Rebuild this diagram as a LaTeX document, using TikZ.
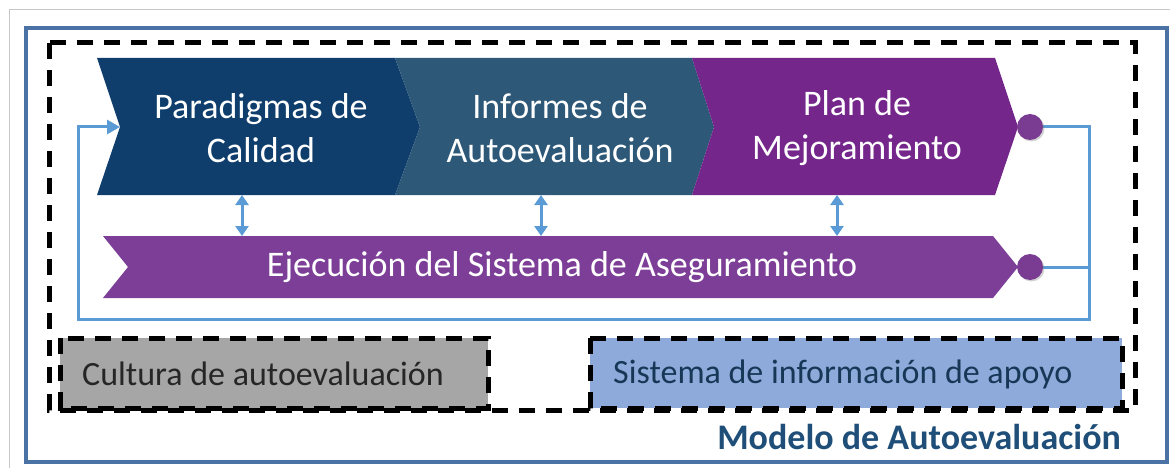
\documentclass[tikz,border=0pt]{standalone}
\usepackage{fontspec}
\setmainfont{Carlito}
\usetikzlibrary{arrows.meta,shadows}
\definecolor{frameblue}{HTML}{4A72A4}
\definecolor{navy}{HTML}{0F3E6D}
\definecolor{steel}{HTML}{2D5878}
\definecolor{purpleA}{HTML}{74268B}
\definecolor{purpleB}{HTML}{7C3E96}
\definecolor{dotpurple}{HTML}{7A3C92}
\definecolor{lineblue}{HTML}{5B9BD5}
\definecolor{culturagray}{HTML}{A6A6A6}
\definecolor{apoyoblue}{HTML}{8EAADB}
\definecolor{titleblue}{HTML}{1F4E79}
\tikzset{
  chevtext/.style={text=white, align=center, font=\fontsize{36}{44}\selectfont, inner sep=0pt},
  boxtext/.style={font=\fontsize{34}{38}\selectfont, inner sep=0pt, anchor=west},
  bigdash/.style={draw=black, line width=5pt, dash pattern=on 16pt off 11pt},
  feedback/.style={draw=lineblue, line width=3pt, -{Triangle[length=13pt,width=14pt]}},
  dblarrow/.style={draw=lineblue, line width=3pt, {Triangle[length=10pt,width=13pt]}-{Triangle[length=10pt,width=13pt]}},
  dot/.style={circle, fill=dotpurple, minimum size=26pt, inner sep=0pt, drop shadow={shadow xshift=1.5pt, shadow yshift=-1.5pt, opacity=0.35}},
}
\begin{document}
\begin{tikzpicture}[x=1pt,y=-1pt]
\useasboundingbox (0,0) rectangle (1170,468);
% outer light border
\draw[draw=black!22, line width=1pt] (9,10) rectangle (1180,480);
% blue frame
\draw[draw=frameblue, line width=4.5pt] (26,28) rectangle (1167,462);

% chevrons (top row)
\fill[navy] (97,58) -- (395,58) -- (420,127) -- (395,195) -- (97,195) -- (120,127) -- cycle;
\fill[steel] (395,58) -- (692,58) -- (714,127) -- (692,195) -- (395,195) -- (420,127) -- cycle;
\fill[purpleA] (692,58) -- (995,58) -- (1018,127) -- (995,195) -- (692,195) -- (714,127) -- cycle;
% bottom chevron
\fill[purpleB] (103,236) -- (993,236) -- (1018,267) -- (993,298) -- (103,298) -- (128,267) -- cycle;

\node[chevtext] (p1) at (261,128) {Paradigmas de\\Calidad};
\node[chevtext] (p2) at (560,128) {Informes de\\Autoevaluación};
\node[chevtext] (p3) at (857,128) {Plan de\\Mejoramiento};
\node[chevtext] (ej) at (562,267) {Ejecución del Sistema de Aseguramiento};

% anchor coordinates
\coordinate (in1) at (120,127);
\coordinate (c1b) at (242,195);
\coordinate (c2b) at (541,195);
\coordinate (c3b) at (837,195);
\coordinate (e1t) at (242,236);
\coordinate (e2t) at (541,236);
\coordinate (e3t) at (837,236);
\coordinate (rtop) at (1089,127);
\coordinate (rbot) at (1089,319);
\coordinate (lbot) at (78,319);

% feedback loop
\draw[draw=lineblue, line width=3pt] (1030,267) -- (1089,267);
\draw[feedback] (1030,127) -- (rtop) -- (rbot) -- (lbot) |- (in1);
\node[dot] (d1) at (1030,127) {};
\node[dot] (d2) at (1030,267) {};

% double arrows
\draw[dblarrow] (c1b) -- (e1t);
\draw[dblarrow] (c2b) -- (e2t);
\draw[dblarrow] (c3b) -- (e3t);

% bottom boxes
\fill[culturagray] (60,338) rectangle (488,408);
\fill[apoyoblue] (590,338) rectangle (1122,408);
\draw[bigdash] (60,338) rectangle (488,408);
\draw[bigdash] (590,338) rectangle (1122,408);
\node[boxtext, text=black!85] (cu) at (82,374) {Cultura de autoevaluación};
\node[boxtext, text=titleblue!70!black] (si) at (613,374) {Sistema de información de apoyo};

% big dashed frame
\draw[bigdash] (49,43) rectangle (1135,410);

% title
\node[font=\bfseries\fontsize{36}{40}\selectfont, text=titleblue, anchor=east, inner sep=0pt] (title) at (1121,437) {Modelo de Autoevaluación};
\end{tikzpicture}
\end{document}
